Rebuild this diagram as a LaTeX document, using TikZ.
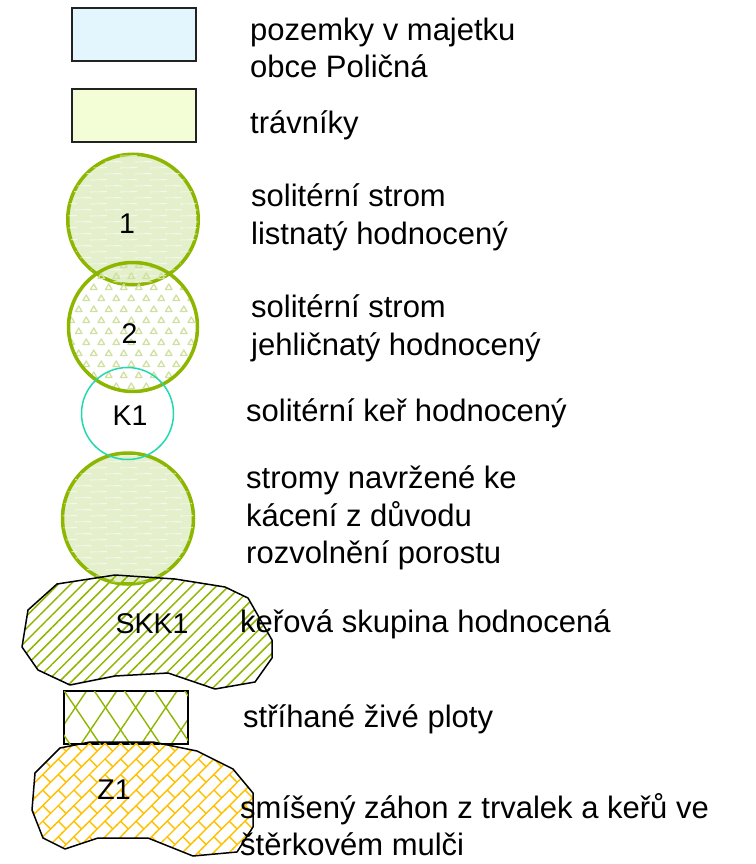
\documentclass[tikz,border=0pt]{standalone}
\usepackage{fontspec}
\setmainfont{Liberation Sans}
\usetikzlibrary{patterns,patterns.meta}

\definecolor{gline}{HTML}{8DB600}
\definecolor{gfill}{HTML}{E4EFCB}
\definecolor{trig}{HTML}{CFE0A0}
\definecolor{bluef}{HTML}{E3F6FE}
\definecolor{yelf}{HTML}{F3FDD6}
\definecolor{kline}{HTML}{22D8AE}
\definecolor{orng}{HTML}{FFC000}
\definecolor{rectline}{HTML}{222222}

\pgfdeclarepatternformonly{tris}{\pgfpoint{-1pt}{-1pt}}{\pgfpoint{16pt}{23pt}}{\pgfpoint{15pt}{22pt}}{%
  \pgfsetlinewidth{1.3pt}\pgfsetroundjoin
  \pgfpathmoveto{\pgfpoint{0.5pt}{2.5pt}}\pgfpathlineto{\pgfpoint{7pt}{2.5pt}}\pgfpathlineto{\pgfpoint{3.75pt}{8pt}}\pgfpathclose
  \pgfpathmoveto{\pgfpoint{8pt}{13.5pt}}\pgfpathlineto{\pgfpoint{14.5pt}{13.5pt}}\pgfpathlineto{\pgfpoint{11.25pt}{19pt}}\pgfpathclose
  \pgfusepath{stroke}}

\pgfdeclarepatternformonly{streaks}{\pgfpoint{-1pt}{-1pt}}{\pgfpoint{31pt}{13pt}}{\pgfpoint{30pt}{12pt}}{%
  \pgfsetlinewidth{0.6pt}
  \pgfpathmoveto{\pgfpoint{0pt}{0pt}}\pgfpathlineto{\pgfpoint{17pt}{0.3pt}}
  \pgfpathmoveto{\pgfpoint{15pt}{6pt}}\pgfpathlineto{\pgfpoint{30pt}{6.3pt}}
  \pgfpathmoveto{\pgfpoint{0pt}{6pt}}\pgfpathlineto{\pgfpoint{2pt}{6pt}}
  \pgfusepath{stroke}}

\pgfdeclarepattern{
  name=bricks,
  type=uncolored,
  bottom left={\pgfpoint{-1pt}{-1pt}},
  top right={\pgfpoint{23pt}{23pt}},
  tile size={\pgfpoint{22pt}{22pt}},
  tile transformation={\pgftransformrotate{45}},
  code={
    \pgfsetlinewidth{1.4pt}
    \pgfpathmoveto{\pgfpoint{-1pt}{0pt}}\pgfpathlineto{\pgfpoint{23pt}{0pt}}
    \pgfpathmoveto{\pgfpoint{-1pt}{11pt}}\pgfpathlineto{\pgfpoint{23pt}{11pt}}
    \pgfpathmoveto{\pgfpoint{5.5pt}{0pt}}\pgfpathlineto{\pgfpoint{5.5pt}{11pt}}
    \pgfpathmoveto{\pgfpoint{16.5pt}{11pt}}\pgfpathlineto{\pgfpoint{16.5pt}{22pt}}
    \pgfusepath{stroke}
  }
}

\tikzset{
  leg/.style={anchor=base west, inner sep=0pt, font=\fontsize{31}{37}\selectfont},
  lab/.style={anchor=base, inner sep=0pt, font=\fontsize{28.5}{34}\selectfont},
  legrect/.style={rectangle, draw=rectline, line width=1.8pt, inner sep=0pt, minimum width=124pt, minimum height=53pt},
  tree/.style={circle, draw=gline, line width=3.5pt, inner sep=0pt},
}

\begin{document}
\begin{tikzpicture}[x=1pt,y=-1pt]
\useasboundingbox (0,0) rectangle (755,864);

% legend rectangles
\node[legrect, fill=bluef] (r1) at (134,34.5) {};
\node[legrect, fill=yelf] (r2) at (134,115.5) {};

% tree 1 (deciduous)
\node[tree, fill=gfill, postaction={pattern=streaks, pattern color=white}, minimum size=130.5pt] (c1) at (133,219.5) {};
% tree 2 (conifer)
\node[tree, pattern=tris, pattern color=trig, minimum size=129pt] (c2) at (133,327) {};
% trees to be felled
\node[tree, fill=gfill, postaction={pattern=streaks, pattern color=white}, minimum size=131pt] (c4) at (128,518.5) {};

% shrub group SKK1
\draw[black, line width=1.5pt, line join=round, pattern={Lines[angle=45,distance=8.7pt,line width=1.5pt]}, pattern color=gline]
  (57,584) -- (115,575) -- (175,579) -- (225,587) -- (248,598) -- (272,640) -- (272,658) -- (255,682)
  -- (215,689) -- (168,673) -- (115,676) -- (70,685) -- (38,670) -- (22,647) -- (28,610) -- cycle;

% shrub K1
\node[circle, draw=kline, line width=1.5pt, inner sep=0pt, minimum size=92pt] (k1) at (127.5,413.5) {};

% hedge
\node[rectangle, draw=black, line width=1.8pt, inner sep=0pt, minimum width=124pt, minimum height=53pt,
      pattern={Lines[angle=56,distance=25pt,line width=1.4pt]}, pattern color=gline,
      postaction={pattern={Lines[angle=-56,distance=25pt,line width=1.4pt]}, pattern color=gline}] (h) at (126,717.5) {};

% bed Z1
\draw[black, line width=1.5pt, line join=round, pattern=bricks, pattern color=orng]
  (60,748) -- (90,742) -- (153,742) -- (197,751) -- (233,769) -- (253,793) -- (253,827) -- (237,852)
  -- (193,856) -- (148,838) -- (98,838) -- (65,849) -- (43,838) -- (32,810) -- (35,773) -- cycle;

% labels inside symbols
\node[lab] (l1) at (127,233) {1};
\node[lab] (l2) at (129.5,343) {2};
\node[lab] (lk) at (130,425) {K1};
\node[lab] (ls) at (152,633) {SKK1};
\node[lab] (lz) at (114,799) {Z1};

% legend texts
\node[leg] (t1a) at (250,41) {pozemky v majetku};
\node[leg] (t1b) at (250,78) {obce Poličná};
\node[leg] (t2) at (250,134) {trávníky};
\node[leg] (t3a) at (251,206) {solitérní strom};
\node[leg] (t3b) at (251,244) {listnatý hodnocený};
\node[leg] (t4a) at (251,317) {solitérní strom};
\node[leg] (t4b) at (251,355) {jehličnatý hodnocený};
\node[leg] (t5) at (246,421) {solitérní keř hodnocený};
\node[leg] (t6a) at (246,488) {stromy navržené ke};
\node[leg] (t6b) at (246,526) {kácení z důvodu};
\node[leg] (t6c) at (246,563) {rozvolnění porostu};
\node[leg] (t7) at (240,632) {keřová skupina hodnocená};
\node[leg] (t8) at (243,727) {stříhané živé ploty};
\node[leg] (t9a) at (240,818) {smíšený záhon z trvalek a keřů ve};
\node[leg] (t9b) at (240,855) {štěrkovém mulči};
\end{tikzpicture}
\end{document}
